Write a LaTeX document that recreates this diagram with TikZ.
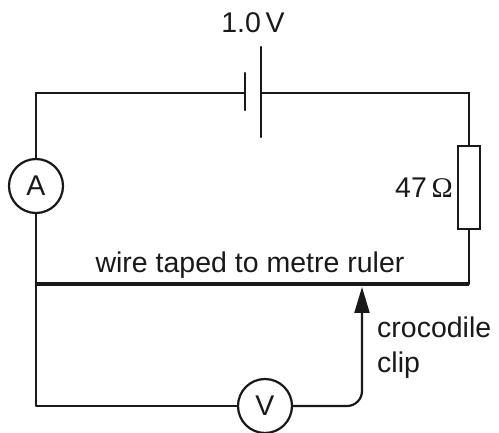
\documentclass[tikz,border=0pt]{standalone}
\usepackage{fontspec}
\setmainfont{Liberation Sans}
\newfontfamily\omegafont{Liberation Serif}
\usetikzlibrary{arrows.meta}
\begin{document}
\begin{tikzpicture}[x=1pt,y=-1pt,
  wire/.style={line width=2.2pt,line cap=round,line join=round,color=black!90},
  meter/.style={circle,draw=black!90,line width=2.2pt,minimum size=54pt,inner sep=0pt,fill=white},
  resist/.style={rectangle,draw=black!90,line width=2.2pt,minimum width=22pt,minimum height=83pt,inner sep=0pt,fill=white},
  lbl/.style={font=\fontsize{28.5}{35}\selectfont,text=black!90,inner sep=0pt}]
\useasboundingbox (0,0) rectangle (499,433);
% corners
\coordinate (TL) at (36,93);
\coordinate (TR) at (469,93);
\coordinate (BL) at (36,284);
\coordinate (BR) at (469,284);
\coordinate (BB) at (36,406);
\coordinate (BC) at (362,406);
\coordinate (tip) at (362,287);
% battery plates
\coordinate (s1) at (245,73);
\coordinate (s2) at (245,110);
\coordinate (l1) at (261,47);
\coordinate (l2) at (261,137);
\coordinate (bn) at (245,93);
\coordinate (bp) at (261,93);
\draw[wire] (s1) -- (s2);
\draw[wire] (l1) -- (l2);
% components
\node[meter] (A) at (36,186) {};
\node[lbl] (At) at (A.center) {A};
\node[meter] (V) at (265,406) {};
\node[lbl] (Vt) at (V.center) {V};
\node[resist] (R) at (469,187.5) {};
% wires
\draw[wire] (TL) -- (bn);
\draw[wire] (bp) -- (TR);
\draw[wire] (TL) -- (A.north);
\draw[wire] (A.south) -- (BL);
\draw[wire] (TR) -- (R.north);
\draw[wire] (R.south) -- (BR);
\draw[line width=4.5pt,color=black!90] (BL) -- (BR);
\draw[wire] (BL) -- (BB) -- (V.west);
\draw[wire,rounded corners=15pt,-{Triangle[length=26pt,width=15pt]}] (V.east) -- (BC) -- (tip);
% labels
\node[lbl,anchor=base] (volt) at (253,33) {1.0\,V};
\node[lbl,anchor=base east] (ohm) at (453,198) {47\,{\omegafont Ω}};
\node[lbl,anchor=base] (ruler) at (250,273) {wire taped to metre ruler};
\node[lbl,anchor=base west] (clip) at (377,338) {crocodile};
\node[lbl,anchor=base west] (clip2) at (377,373) {clip};
\end{tikzpicture}
\end{document}
